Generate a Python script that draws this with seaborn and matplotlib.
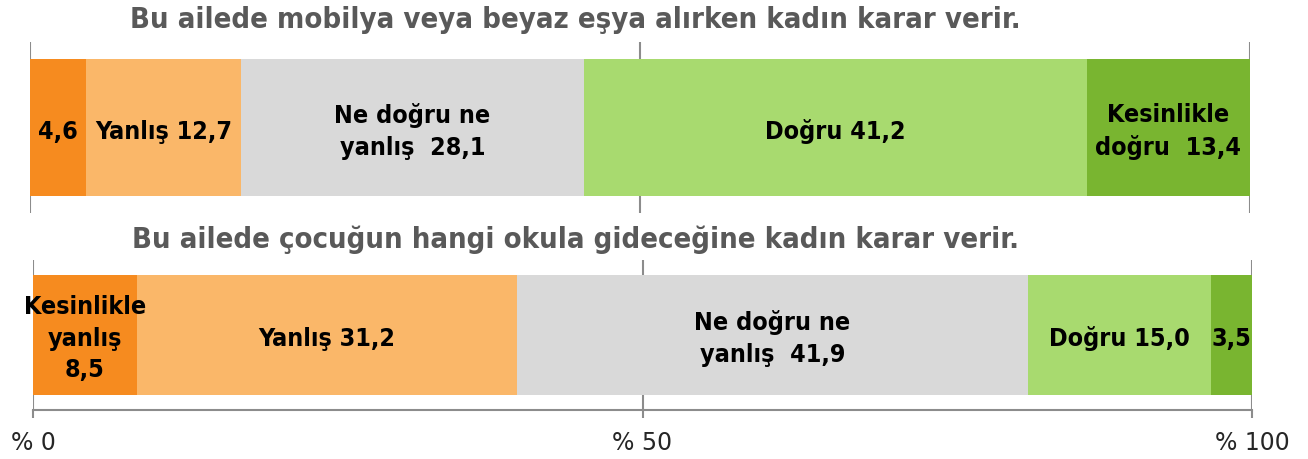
import numpy as np
import pandas as pd
import matplotlib
matplotlib.use('Agg')
import matplotlib.pyplot as plt
import seaborn as sns
from matplotlib import font_manager

# data
titles = ['Bu ailede mobilya veya beyaz eşya alırken kadın karar verir.',
          'Bu ailede çocuğun hangi okula gideceğine kadın karar verir.']
values_top = [4.6, 12.7, 28.1, 41.2, 13.4]
values_bottom = [8.5, 31.2, 41.9, 15.0, 3.5]
labels_top = ['4,6', 'Yanlış 12,7', 'Ne doğru ne\nyanlış  28,1', 'Doğru 41,2', 'Kesinlikle\ndoğru  13,4']
labels_bottom = ['Kesinlikle\nyanlış\n8,5', 'Yanlış 31,2', 'Ne doğru ne\nyanlış  41,9', 'Doğru 15,0', '3,5']
colors = ['#F68B1F', '#FAB769', '#D9D9D9', '#A8DA6F', '#79B530']
xticks = [0, 50, 100]
xticklabels = ['% 0', '% 50', '% 100']

sns.set_theme(style='white')
names = {f.name for f in font_manager.fontManager.ttflist}
narrow = 'Liberation Sans Narrow' if 'Liberation Sans Narrow' in names else 'DejaVu Sans'
plt.rcParams['font.family'] = [narrow, 'DejaVu Sans']

fig = plt.figure(figsize=(13.08, 4.59), dpi=100)
ax1 = fig.add_axes([30/1308, 1-213/459, 1220/1308, 171/459])
ax2 = fig.add_axes([33/1308, 1-410/459, 1219/1308, 150/459])

def draw(ax, vals, labs, pad):
    cum = np.cumsum(vals)
    # draw cumulative bars from the longest to shortest so they stack visually
    for i in reversed(range(len(vals))):
        sns.barplot(x=[cum[i]], y=[0], orient='h', color=colors[i], width=1,
                    saturation=1, ax=ax, linewidth=0)
    for i, (c, v) in enumerate(zip(cum, vals)):
        ax.text(c - v/2, 0.03, labs[i], ha='center', va='center', fontsize=18,
                fontweight='bold', color='black', linespacing=1.4,
                fontstretch='condensed')
    ax.set_xlim(0, 100)
    ax.set_ylim(0.5 + pad, -0.5 - pad)
    ax.set_yticks([])
    ax.set_ylabel('')
    ax.set_xticks(xticks)
    ax.grid(axis='x', color='#8C8C8C', linewidth=1.5)
    ax.set_axisbelow(True)
    for s in ax.spines.values():
        s.set_visible(False)

draw(ax1, values_top, labels_top, 0.124)
draw(ax2, values_bottom, labels_bottom, 0.125)

ax1.tick_params(axis='x', length=0, labelbottom=False)
ax2.spines['bottom'].set_visible(True)
ax2.spines['bottom'].set_color('#8C8C8C')
ax2.spines['bottom'].set_linewidth(1.5)
ax2.set_xticklabels(xticklabels)
ax2.tick_params(axis='x', direction='out', length=6, width=1.5, color='#8C8C8C',
                labelsize=17, labelcolor='#262626', pad=9, bottom=True)

fig.text(575/1308, 1-20/459, titles[0], ha='center', va='center', fontsize=21,
         fontweight='bold', color='#595959', fontstretch='condensed')
fig.text(575/1308, 1-240/459, titles[1], ha='center', va='center', fontsize=21,
         fontweight='bold', color='#595959', fontstretch='condensed')

fig.savefig('out.png', dpi=100)
